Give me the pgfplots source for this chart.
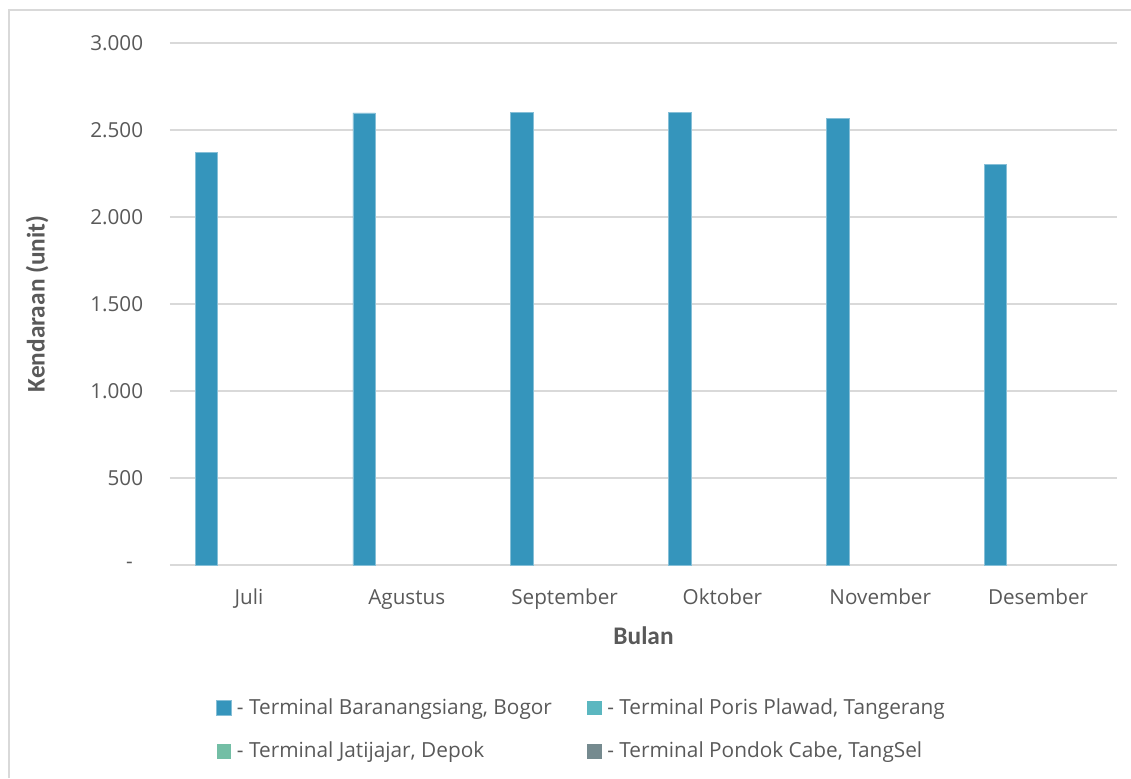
\documentclass[border=0pt]{standalone}
\usepackage{fontspec}
\setmainfont{Open Sans}
\newfontfamily\titlefont{Carlito}
\usepackage{pgfplots}
\usepackage{pgfplotstable}
\pgfplotsset{compat=1.18}
\definecolor{sA}{RGB}{53,149,188}
\definecolor{sB}{RGB}{91,183,192}
\definecolor{sC}{RGB}{115,190,165}
\definecolor{sD}{RGB}{117,138,143}
\definecolor{gridc}{RGB}{217,217,217}
\definecolor{txt}{RGB}{89,89,89}
\pgfplotstableread{
x v1 v2 v3 v4
0 2370 0 0 0
1 2598 0 0 0
2 2602 0 0 0
3 2603 0 0 0
4 2565 0 0 0
5 2302 0 0 0
}\data
\begin{document}
\begin{tikzpicture}
\useasboundingbox (-127.5pt,-159.75pt) rectangle (720.75pt,423.75pt);
\draw[gridc, line width=1pt] (-120.75pt,-159.75pt) -- (-120.75pt,416.25pt) -- (720.75pt,416.25pt);
\begin{axis}[
  at={(0pt,0pt)}, anchor=south west,
  scale only axis, width=710.25pt, height=391.5pt,
  xmin=-0.5, xmax=5.5, ymin=0, ymax=3000,
  axis line style={draw=none},
  major tick length=0pt,
  xtick={0,1,2,3,4,5},
  xticklabels={Juli,Agustus,September,Oktober,November,Desember},
  ytick={0,500,1000,1500,2000,2500,3000},
  yticklabels={{\makebox[12.75pt][l]{-}},500,{1.000},{1.500},{2.000},{2.500},{3.000}},
  ymajorgrids, grid style={draw=gridc, line width=1.1pt},
  tick label style={color=txt, font=\fontsize{15.5}{18}\selectfont},
  yticklabel style={anchor=east, inner sep=0pt, xshift=-20pt},
  xticklabel style={anchor=base, inner sep=0pt, yshift=-29.6pt},
  xlabel={Bulan}, ylabel={Kendaraan (unit)},
  every axis x label/.style={at={(axis description cs:0.5,-0.136)}, anchor=center,
    color=txt, font=\titlefont\bfseries\fontsize{19}{22}\selectfont},
  every axis y label/.style={at={(axis description cs:-0.1404,0.5)}, anchor=center, rotate=90,
    color=txt, font=\titlefont\bfseries\fontsize{19}{22}\selectfont},
  ybar, bar width=0.143,
  legend columns=2,
  legend style={draw=none, fill=none, inner sep=0pt,
    at={(axis description cs:0.0486,-0.318)}, anchor=west,
    font=\fontsize{15.6}{18}\selectfont, text=txt,
    nodes={inner sep=0pt, text height=11.5pt, text depth=3.5pt, anchor=base west},
    row sep=17.5pt,
    /tikz/every odd column/.append style={column sep=4pt},
    /tikz/every even column/.append style={column sep=26.5pt}},
  legend cell align=left,
  legend image code/.code={\fill[#1] (0pt,-0.5pt) rectangle (11pt,10.5pt);},
]
\addplot[fill=sA, draw=sA!60!white, line width=0.5pt, bar shift=-0.27] table[x=x,y=v1]{\data};
\addlegendentry{- Terminal Baranangsiang, Bogor}
\addlegendimage{fill=sB, draw=none}
\addlegendentry{- Terminal Poris Plawad, Tangerang}
\addlegendimage{fill=sC, draw=none}
\addlegendentry{- Terminal Jatijajar, Depok}
\addlegendimage{fill=sD, draw=none}
\addlegendentry{- Terminal Pondok Cabe, TangSel}
\addplot[forget plot, fill=none, draw=none, bar shift=-0.09] table[x=x,y=v2]{\data};
\addplot[forget plot, fill=none, draw=none, bar shift=0.09] table[x=x,y=v3]{\data};
\addplot[forget plot, fill=none, draw=none, bar shift=0.27] table[x=x,y=v4]{\data};
\end{axis}
\end{tikzpicture}
\end{document}
